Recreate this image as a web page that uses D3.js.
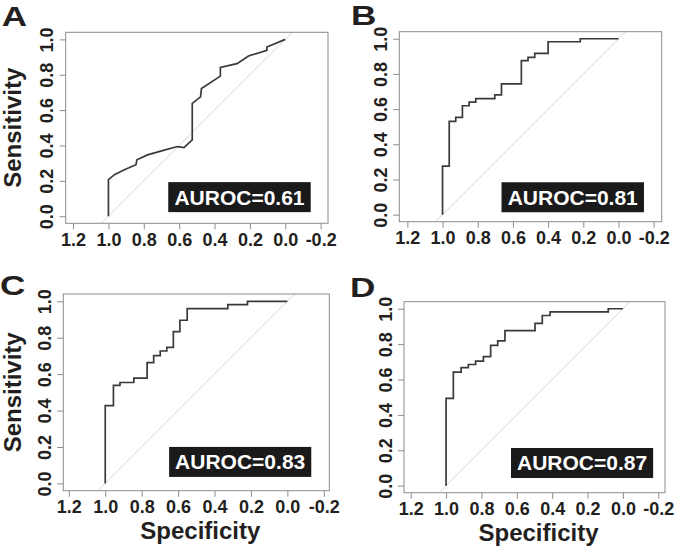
<!DOCTYPE html>
<html lang="en">
<head>
<meta charset="UTF-8">
<title>ROC curves</title>
<script src="https://d3js.org/d3.v7.min.js"></script>
<style>
  body { margin: 0; background: #fff; }
  svg text { font-family: "Liberation Sans", Arial, sans-serif; font-weight: bold; fill: #231f20; }
</style>
</head>
<body>
<script>
const width = 685, height = 552;

const panelIds = ["A", "B", "C", "D"];
const aurocValues = [0.61, 0.81, 0.83, 0.87];
const xTicks = [1.2, 1.0, 0.8, 0.6, 0.4, 0.2, 0.0, -0.2];
const yTicks = [0.0, 0.2, 0.4, 0.6, 0.8, 1.0];

// curve vertices (specificity, sensitivity)
const specA = [1.0, 1.0, 0.966, 0.910, 0.844, 0.839, 0.779, 0.694, 0.610, 0.573, 0.526, 0.526, 0.479, 0.474, 0.367, 0.367, 0.273, 0.208, 0.104, 0.104, 0.0];
const sensA = [0.0, 0.207, 0.235, 0.263, 0.291, 0.319, 0.347, 0.371, 0.394, 0.388, 0.432, 0.638, 0.675, 0.722, 0.792, 0.841, 0.863, 0.906, 0.938, 0.957, 1.0];

const specB = [1.0, 1.0, 0.962, 0.962, 0.925, 0.925, 0.887, 0.887, 0.849, 0.849, 0.811, 0.811, 0.703, 0.703, 0.665, 0.665, 0.552, 0.552, 0.514, 0.514, 0.476, 0.476, 0.400, 0.400, 0.217, 0.217, 0.0];
const sensB = [0.0, 0.276, 0.276, 0.530, 0.530, 0.553, 0.553, 0.619, 0.619, 0.640, 0.640, 0.660, 0.660, 0.681, 0.681, 0.743, 0.743, 0.876, 0.876, 0.894, 0.894, 0.917, 0.917, 0.983, 0.983, 1.0, 1.0];

const specC = [1.0, 1.0, 0.955, 0.955, 0.919, 0.919, 0.843, 0.843, 0.770, 0.770, 0.734, 0.734, 0.698, 0.698, 0.662, 0.662, 0.626, 0.626, 0.590, 0.590, 0.550, 0.550, 0.327, 0.327, 0.219, 0.219, 0.0];
const sensC = [0.0, 0.427, 0.427, 0.538, 0.538, 0.554, 0.554, 0.578, 0.578, 0.663, 0.663, 0.702, 0.702, 0.727, 0.727, 0.747, 0.747, 0.833, 0.833, 0.896, 0.896, 0.960, 0.960, 0.982, 0.982, 1.0, 1.0];

const specD = [1.0, 1.0, 0.959, 0.959, 0.915, 0.915, 0.874, 0.874, 0.833, 0.833, 0.789, 0.789, 0.748, 0.748, 0.708, 0.708, 0.667, 0.667, 0.497, 0.497, 0.456, 0.456, 0.412, 0.412, 0.083, 0.083, 0.0];
const sensD = [0.0, 0.493, 0.493, 0.642, 0.642, 0.667, 0.667, 0.685, 0.685, 0.704, 0.704, 0.729, 0.729, 0.793, 0.793, 0.818, 0.818, 0.877, 0.877, 0.917, 0.917, 0.962, 0.962, 0.983, 0.983, 1.0, 1.0];

const specs = [specA, specB, specC, specD];
const senss = [sensA, sensB, sensC, sensD];

// layout of each panel (plot box in px, label spots)
const layout = [
    {x0: 65.7, y0: 32.3, x1: 328, y1: 223.3, lx: 1.7, ly: 26, yTitle: true, xTitle: false, ax: 0.259, ay: 0.108},
    {x0: 399.3, y0: 31.7, x1: 661.7, y1: 221.7, lx: 351, ly: 25, yTitle: false, xTitle: false, ax: 0.26, ay: 0.099},
    {x0: 63.3, y0: 294, x1: 329.3, y1: 490.7, lx: 0, ly: 295, yTitle: true, xTitle: true, ax: 0.259, ay: 0.118},
    {x0: 404, y0: 301.7, x1: 665, y1: 492.7, lx: 350, ly: 297, yTitle: false, xTitle: true, ax: 0.231, ay: 0.128}
];

const boxColor = "#8c8c8c";

const svg = d3.select("body").append("svg")
    .attr("width", width).attr("height", height);

panelIds.forEach(function(id, i) {
    const L = layout[i];
    const w = L.x1 - L.x0, h = L.y1 - L.y0;
    // R style: y range extended 4%, x range set by aspect ratio 1
    const half = 0.54 * w / h;
    const x = d3.scaleLinear().domain([0.5 + half, 0.5 - half]).range([L.x0, L.x1]);
    const y = d3.scaleLinear().domain([-0.04, 1.04]).range([L.y1, L.y0]);

    const g = svg.append("g");

    g.append("clipPath").attr("id", "clip" + id)
        .append("rect").attr("x", L.x0).attr("y", L.y0).attr("width", w).attr("height", h);

    // diagonal reference
    g.append("line")
        .attr("clip-path", "url(#clip" + id + ")")
        .attr("x1", x(1.04)).attr("y1", y(-0.04))
        .attr("x2", x(-0.04)).attr("y2", y(1.04))
        .attr("stroke", "#d4d4d4").attr("stroke-width", 1);

    // roc curve
    const pts = specs[i].map((s, k) => [s, senss[i][k]]);
    const line = d3.line().x(d => x(d[0])).y(d => y(d[1]));
    g.append("path").datum(pts)
        .attr("d", line)
        .attr("fill", "none")
        .attr("stroke", "#3a3a3a")
        .attr("stroke-width", 1.7);

    // box
    g.append("rect")
        .attr("x", L.x0).attr("y", L.y0).attr("width", w).attr("height", h)
        .attr("fill", "none").attr("stroke", boxColor).attr("stroke-width", 1);

    // x axis
    const xAxis = d3.axisBottom(x).tickValues(xTicks).tickSize(6).tickPadding(4)
        .tickFormat(d3.format(".1f"));
    const gx = g.append("g").attr("transform", "translate(0," + L.y1 + ")").call(xAxis);
    gx.select(".domain").remove();
    gx.selectAll(".tick line").attr("stroke", boxColor);
    gx.selectAll(".tick text")
        .attr("y", 22.5).attr("dy", null)
        .style("font-size", "18px")
        .text(d => d3.format(".1f")(d).replace("−", "-"));

    // y axis
    const yAxis = d3.axisLeft(y).tickValues(yTicks).tickSize(6).tickFormat(d3.format(".1f"));
    const gy = g.append("g").attr("transform", "translate(" + L.x0 + ",0)").call(yAxis);
    gy.select(".domain").remove();
    gy.selectAll(".tick line").attr("stroke", boxColor);
    gy.selectAll(".tick text")
        .attr("x", null).attr("dy", null)
        .attr("text-anchor", "middle")
        .attr("transform", "translate(-12.5,0) rotate(-90)")
        .style("font-size", "18px");

    // panel letter
    g.append("text")
        .attr("transform", "translate(" + L.lx + "," + L.ly + ") scale(1.3,1)")
        .style("font-size", "27px")
        .text(id);

    if (L.yTitle) {
        g.append("text")
            .attr("transform", "translate(21," + ((L.y0 + L.y1) / 2) + ") rotate(-90)")
            .attr("text-anchor", "middle")
            .style("font-size", "24px")
            .text("Sensitivity");
    }
    if (L.xTitle) {
        g.append("text")
            .attr("x", (L.x0 + L.x1) / 2 + 4).attr("y", L.y1 + 48)
            .attr("text-anchor", "middle")
            .style("font-size", "24px")
            .text("Specificity");
    }

    // AUROC label
    const cx = x(L.ax), cy = y(L.ay);
    const lab = g.append("g");
    const rect = lab.append("rect").attr("fill", "#1a1a1a");
    const t = lab.append("text")
        .attr("x", cx).attr("y", cy + 7.5)
        .attr("text-anchor", "middle")
        .style("font-size", "21px")
        .style("fill", "#fff")
        .text("AUROC=" + aurocValues[i].toFixed(2));
    const bb = t.node().getBBox();
    rect.attr("x", cx - bb.width / 2 - 6).attr("y", cy - 15)
        .attr("width", bb.width + 12).attr("height", 30);
});
</script>
</body>
</html>
